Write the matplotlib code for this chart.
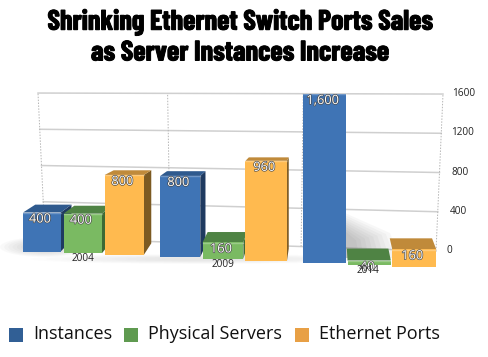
import numpy as np
import matplotlib
matplotlib.use("Agg")
import matplotlib.pyplot as plt
import matplotlib.patheffects as pe
from matplotlib.patches import Polygon, Rectangle, Ellipse

years = ["2004", "2009", "2014"]
series_names = ["Instances", "Physical Servers", "Ethernet Ports"]
instances = [400, 800, 1600]
physical = [400, 160, 40]
ethernet = [800, 960, 160]
bar_labels = [["400", "800", "1,600"], ["400", "160", "40"], ["800", "960", "160"]]
ticks = [0, 400, 800, 1200, 1600]

# front, side, top colours for each series
colors = [("#3f74b5", "#1f3a60", "#2f5a8e"),
          ("#7aba62", "#3d6a35", "#4f8344"),
          ("#ffba4f", "#7c5a22", "#c08a3a")]
legend_colors = ["#315f95", "#5f9a50", "#e8a045"]

title_font = ["Barlow Condensed", "Liberation Sans"]
body_font = ["Open Sans", "DejaVu Sans"]


# fake perspective, everything in pixels of the picture
def left_x(u):
    return 23 + 40.3 * u + 0.27 * u ** 2


def base_y(x):
    return 251.5 + (x - 23) * 0.041


def scale(x):
    return 0.0975 + (x - 23) * 2.9e-5


def depth(x, y):
    return (330 - x) * 0.04, -max(0, y - 120) * 0.085


def back_pt(v, t):
    xl, yl = 45 - v * 7 / 1600, 238 - v * 0.0906
    xr, yr = 436 + v * 7 / 1600, 251 - v * 0.0981
    return xl + (xr - xl) * t, yl + (yr - yl) * t


fig = plt.figure(figsize=(4.89, 3.57), dpi=100)
ax = fig.add_axes([0, 0, 1, 1])
ax.set_xlim(0, 489)
ax.set_ylim(357, 0)
ax.axis("off")

for txt, y in [("Shrinking Ethernet Switch Ports Sales", 22), ("as Server Instances Increase", 53)]:
    ax.text(240, y, txt, ha="center", va="center", fontsize=20.3, family=title_font, weight="bold",
            color="black", path_effects=[pe.withStroke(linewidth=0.7, foreground="black")])

# back wall
for v in ticks:
    p0 = back_pt(v, 0)
    p1 = back_pt(v, 1)
    ax.plot([p0[0], p1[0]], [p0[1], p1[1]], color="#cfcfcf", lw=1.1, zorder=1)
    ax.text(p1[0] + 21 - (0 if v else 8), p1[1] - 0.5, str(v), ha="center", va="center", fontsize=7.2,
            family=body_font, color="#222222")
for t in [0, 0.32, 0.655, 1]:
    p0 = back_pt(0, t)
    p1 = back_pt(1600, t)
    ax.plot([p0[0], p1[0]], [p0[1], p1[1]], color="#b5b5b5", lw=0.7, ls=(0, (1.5, 1.5)), zorder=1)

# soft shadows
for w in np.linspace(1, 0.25, 9):
    ax.add_patch(Ellipse((45, 247), 90 * w, 20 * w, color="#555555", alpha=0.03, lw=0, zorder=1.5))
    ax.add_patch(Polygon([(345, 213 + 24 * (1 - w)), (345 + 45 * w, 233 + 10 * (1 - w)),
                          (345 + 55 * w, 258), (345, 258)],
                         closed=True, color="#555555", alpha=0.045, lw=0, zorder=1.5))
    ax.add_patch(Ellipse((200, 259), 340 * w, 10 * w, color="#888888", alpha=0.02, lw=0, zorder=1.5))

rows = [instances, physical, ethernet]
z = 2
for g in range(3):
    for k in range(3):
        u = g * 3.33 + k
        xl = left_x(u)
        xr = left_x(u + 0.93 + 0.005 * u)
        val = rows[k][g]
        y0 = base_y(xl)
        y1 = y0 - val * scale(xl)
        front, side, top = colors[k]
        dx_l, dy = depth(xl, y1)
        dx_r, _ = depth(xr, y1)
        dx_b, dyb = depth(xr, y0)
        # side face, top face, then the front
        if dx_r > 0:
            ax.add_patch(Polygon([(xr, y1), (xr + dx_r, y1 + dy), (xr + dx_b, y0 + dyb), (xr, y0)],
                                 closed=True, fc=side, ec="none", zorder=z))
        ax.add_patch(Polygon([(xl, y1), (xl + dx_l, y1 + dy), (xr + dx_r, y1 + dy), (xr, y1)],
                             closed=True, fc=top, ec="none", zorder=z))
        ax.add_patch(Rectangle((xl, y1), xr - xl, y0 - y1, fc=front, ec="none", zorder=z + 0.1))
        ax.plot([xl, xr], [y1 + 0.5, y1 + 0.5], color="white", alpha=0.25, lw=1, zorder=z + 0.2)
        ax.text((xl + xr) / 2 - 2, y1 + 6.5, bar_labels[k][g], ha="center", va="center",
                fontsize=9.2, family=body_font, color="white", zorder=z + 0.3,
                path_effects=[pe.withStroke(linewidth=0.9, foreground="#444444")])
        z += 1

# year labels sit under the middle bar of each group
for g, yr in enumerate(years):
    u = g * 3.33 + 1
    xm = (left_x(u) + left_x(u + 0.93)) / 2
    ax.text(xm, base_y(xm) + 5, yr, ha="center", va="center", fontsize=7.2, family=body_font,
            color="#222222", zorder=50)

# legend
for name, c, bx, tx in zip(series_names, legend_colors, [9, 123.5, 295], [33, 148, 319]):
    ax.add_patch(Rectangle((bx, 327.5), 14, 14, fc=c, ec="none"))
    ax.text(tx, 334, name, ha="left", va="center", fontsize=13, family=body_font, color="#111111")

fig.savefig("out.png", dpi=100)
